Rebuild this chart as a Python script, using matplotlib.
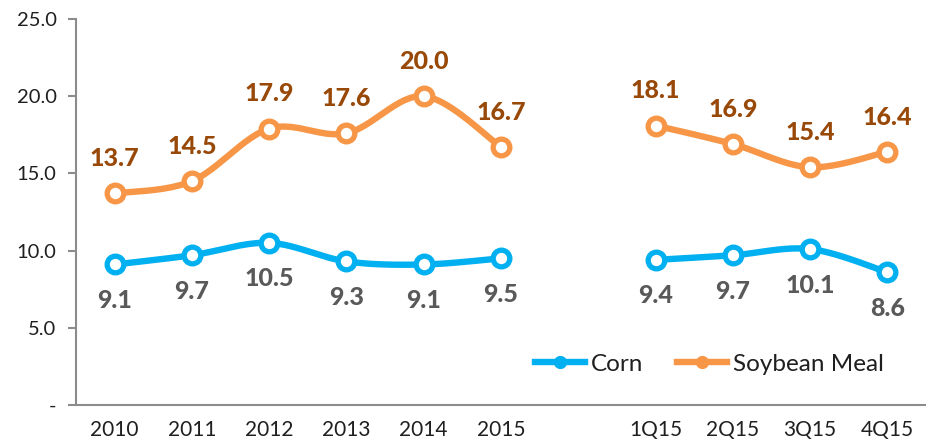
import numpy as np
import matplotlib
matplotlib.use("Agg")
import matplotlib.pyplot as plt
from matplotlib.lines import Line2D

plt.rcParams['font.family'] = ['Lato', 'DejaVu Sans']

# Categories: two groups separated by an empty slot
annual_labels = ["2010", "2011", "2012", "2013", "2014", "2015"]
quarter_labels = ["1Q15", "2Q15", "3Q15", "4Q15"]

corn_annual = [9.1, 9.7, 10.5, 9.3, 9.1, 9.5]
corn_quarter = [9.4, 9.7, 10.1, 8.6]
soy_annual = [13.7, 14.5, 17.9, 17.6, 20.0, 16.7]
soy_quarter = [18.1, 16.9, 15.4, 16.4]

y_ticks = [0, 5, 10, 15, 20, 25]
y_tick_labels = ["-", "5.0", "10.0", "15.0", "20.0", "25.0"]

CORN = "#00B0F0"
SOY = "#F79646"
SOY_TXT = "#984807"
CORN_TXT = "#595959"
AXIS = "#8C8C8C"
TEXT = "#1f1f1f"


def smooth(x, y, n=30):
    """Cardinal (Catmull-Rom) Bezier smoothing through every point."""
    x = np.asarray(x, float)
    y = np.asarray(y, float)
    px = np.concatenate([[x[0]], x, [x[-1]]])
    py = np.concatenate([[y[0]], y, [y[-1]]])
    xs, ys = [], []
    t = np.linspace(0, 1, n)
    for i in range(1, len(px) - 2):
        p0 = np.array([px[i - 1], py[i - 1]])
        p1 = np.array([px[i], py[i]])
        p2 = np.array([px[i + 1], py[i + 1]])
        p3 = np.array([px[i + 2], py[i + 2]])
        c1 = p1 + (p2 - p0) / 6.0
        c2 = p2 - (p3 - p1) / 6.0
        pts = ((1 - t) ** 3)[:, None] * p1 + (3 * (1 - t) ** 2 * t)[:, None] * c1 \
            + (3 * (1 - t) * t ** 2)[:, None] * c2 + (t ** 3)[:, None] * p2
        xs.extend(pts[:, 0])
        ys.extend(pts[:, 1])
    return np.array(xs), np.array(ys)


fig = plt.figure(figsize=(9.26, 4.47), dpi=100)
ax = fig.add_axes([76 / 926, 1 - 405 / 447, 1 - 76 / 926, (405 - 19) / 447])

labels = annual_labels + [""] + quarter_labels
n_ann = len(annual_labels)
x_ann = np.arange(n_ann)
x_q = np.arange(n_ann + 1, n_ann + 1 + len(quarter_labels))

for xs_, corn, soy in [(x_ann, corn_annual, soy_annual), (x_q, corn_quarter, soy_quarter)]:
    for vals, col, txtcol, off in [(corn, CORN, CORN_TXT, -26), (soy, SOY, SOY_TXT, 25)]:
        sx, sy = smooth(xs_, vals)
        ax.plot(sx, sy, color=col, lw=4.6, solid_capstyle='round', zorder=3)
        ax.plot(xs_, vals, ls='none', marker='o', ms=12, mfc='white', mec=col,
                mew=3.8, zorder=4)
        for xi, v in zip(xs_, vals):
            ax.annotate(f"{v:.1f}", (xi, v), xytext=(0, off), textcoords='offset points',
                        ha='center', va='center', fontsize=18, fontweight='black',
                        color=txtcol, zorder=5)

ax.set_xlim(-0.5, len(labels) - 0.5)
ax.set_ylim(0, 25)
ax.set_xticks(np.arange(len(labels)))
ax.set_xticklabels(labels, fontsize=15, color=TEXT)
ax.set_yticks(y_ticks)
ax.set_yticklabels(y_tick_labels, fontsize=14.5, color=TEXT)
ax.tick_params(axis='x', length=0, pad=11)
ax.tick_params(axis='y', length=6, width=1.5, color=AXIS, pad=8)

for side in ['top', 'right']:
    ax.spines[side].set_visible(False)
for side in ['left', 'bottom']:
    ax.spines[side].set_color(AXIS)
    ax.spines[side].set_linewidth(1.5)

handles = [
    Line2D([], [], color=CORN, lw=4.6, marker='o', ms=4.5, mfc='white', mec=CORN, mew=5),
    Line2D([], [], color=SOY, lw=4.6, marker='o', ms=4.5, mfc='white', mec=SOY, mew=5),
]
leg = fig.legend(handles, ["Corn", "Soybean Meal"], loc='center left',
                 bbox_to_anchor=(535 / 926, 1 - 364 / 447), bbox_transform=fig.transFigure,
                 ncol=2, frameon=False, fontsize=17.5, borderpad=0, borderaxespad=0,
                 handlelength=2.05, columnspacing=1.4, handletextpad=0.25)
for t in leg.get_texts():
    t.set_color(TEXT)

fig.savefig("out.png", dpi=100)
